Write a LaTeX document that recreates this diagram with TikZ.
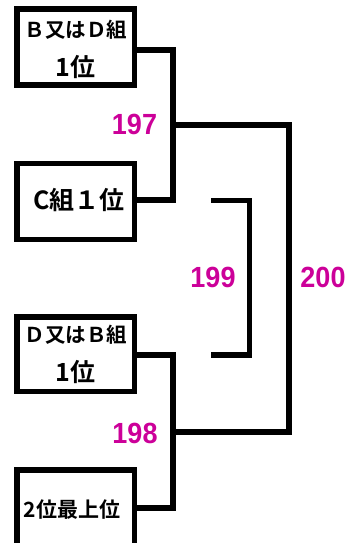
\documentclass[tikz,border=0pt]{standalone}
\usepackage{fontspec}
\newfontfamily\jp{Noto Sans CJK JP Bold}
\newfontfamily\numf{Liberation Sans}
\definecolor{mag}{RGB}{204,0,153}
\begin{document}
\begin{tikzpicture}[x=1pt,y=-1pt,
  wire/.style={line width=5.5pt,line join=miter},
  box/.style={draw,line width=5.5pt,outer sep=0pt,inner sep=0pt,minimum width=117.5pt},
  lbl/.style={inner sep=0pt,font=\jp\fontsize{#1}{#1}\selectfont},
  num/.style={text=mag,font=\numf\bfseries\fontsize{27}{27}\selectfont,inner sep=0pt,yscale=1.08}]
\useasboundingbox (0,0) rectangle (349,543);
\begin{scope}
\clip (0,0) rectangle (349,543);
% boxes
\node[box,minimum height=76pt] (b1) at (75.75,47) {};
\node[lbl=20.5] (b1a) at ([yshift=17pt]b1.center) {Ｂ又はＤ組};
\node[lbl=25] (b1b) at ([yshift=-20pt]b1.center) {1位};
\node[box,minimum height=76pt] (b2) at (75.75,201.5) {};
\node[lbl=25] (b2a) at ([xshift=3pt,yshift=1.5pt]b2.center) {C組１位};
\node[box,minimum height=74.5pt] (b3) at (75.75,354.25) {};
\node[lbl=20.5] (b3a) at ([yshift=19pt]b3.center) {Ｄ又はＢ組};
\node[lbl=25] (b3b) at ([yshift=-18pt]b3.center) {1位};
\coordinate (b4tl) at (17,470);
\coordinate (b4tr) at (134.5,470);
\coordinate (b4r) at (134.5,508);
\draw[wire] (17,560) -- (b4tl) -- (b4tr) -- (134.5,560);
\node[lbl=21] (b4) at (72,510) {2位最上位};
% junctions
\coordinate (m1) at (173,125);
\coordinate (m2) at (173,432);
\coordinate (t1) at (289,125);
\coordinate (t2) at (289,432);
\draw[wire] ([yshift=-3pt]b1.east) -| (m1) |- ([yshift=1.5pt]b2.east);
\draw[wire] ([yshift=-0.75pt]b3.east) -| (m2) |- (b4r);
\draw[wire] (m1) -- (t1) -- (t2) -- (m2);
% semifinal bracket
\coordinate (s1) at (211,200.5);
\coordinate (s2) at (211,355);
\coordinate (s3) at (249.5,200.5);
\coordinate (s4) at (249.5,355);
\draw[wire] (s1) -- (s3) -- (s4) -- (s2);
% numbers
\node[num] (n197) at (134.5,124) {197};
\node[num] (n198) at (135,433) {198};
\node[num] (n199) at (213,277) {199};
\node[num] (n200) at (323,277) {200};
\end{scope}
\end{tikzpicture}
\end{document}
